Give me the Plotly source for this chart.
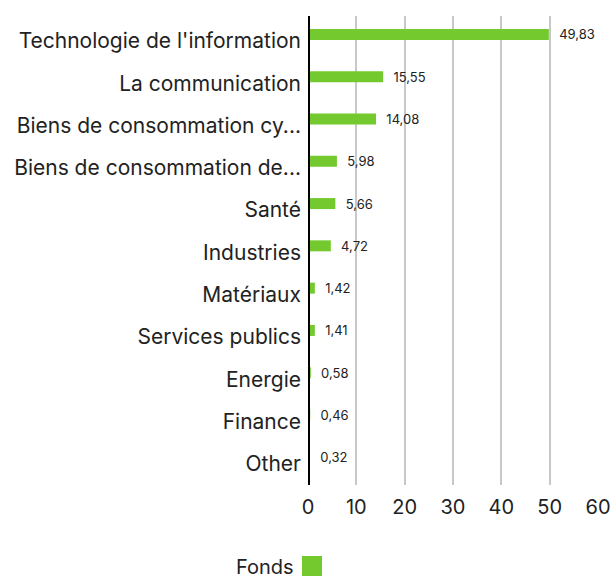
import plotly.graph_objects as go

categories = ["Technologie de l'information", "La communication", "Biens de consommation cy...",
              "Biens de consommation de...", "Santé", "Industries", "Matériaux",
              "Services publics", "Energie", "Finance", "Other"]
values = [49.83, 15.55, 14.08, 5.98, 5.66, 4.72, 1.42, 1.41, 0.58, 0.46, 0.32]
value_labels = ["49,83", "15,55", "14,08", "5,98", "5,66", "4,72", "1,42", "1,41", "0,58", "0,46", "0,32"]
x_ticks = [0, 10, 20, 30, 40, 50, 60]
series_name = "Fonds"
green = "#73C92D"

fig = go.Figure()
fig.add_trace(go.Bar(
    y=categories, x=values, orientation="h", name=series_name,
    marker=dict(color=green, line=dict(width=0)),
    width=0.26, offset=-0.285,
    text=value_labels, texttemplate="  %{text}", textposition="outside",
    cliponaxis=False, constraintext="none",
    textfont=dict(size=13, color="#222222", family="Inter"),
    showlegend=False,
))

fig.update_layout(
    width=611, height=576,
    margin=dict(l=308, r=13, t=16, b=91, autoexpand=False),
    paper_bgcolor="white", plot_bgcolor="white",
    font=dict(family="Inter", color="#222222"),
    xaxis=dict(range=[0, 60], tickvals=x_ticks, showgrid=True, gridcolor="#C8C8C8", gridwidth=2,
               zeroline=False, showline=False, tickfont=dict(size=20, color="#222222"), ticks="",
               ticklabelstandoff=8, automargin=False),
    yaxis=dict(range=[10.5, -0.59], showgrid=False, ticks="", showline=False, automargin=False,
               tickfont=dict(size=21, color="#222222"), ticklabelstandoff=6),
    shapes=[
        dict(type="line", xref="x", yref="paper", x0=0, x1=0, y0=0, y1=1,
             line=dict(color="black", width=4)),
        dict(type="rect", xref="paper", yref="paper", x0=-0.0207, x1=0.0483, y0=-0.1514, y1=-0.194,
             fillcolor=green, line=dict(width=0)),
    ],
    annotations=[
        dict(text=series_name, xref="paper", yref="paper", x=-0.042, y=-0.205, xanchor="right",
             yanchor="bottom", showarrow=False, font=dict(size=20, color="#222222")),
    ],
)

fig.write_html("out.html", config={"displayModeBar": False},
               post_script="document.body.style.margin='0px';")
